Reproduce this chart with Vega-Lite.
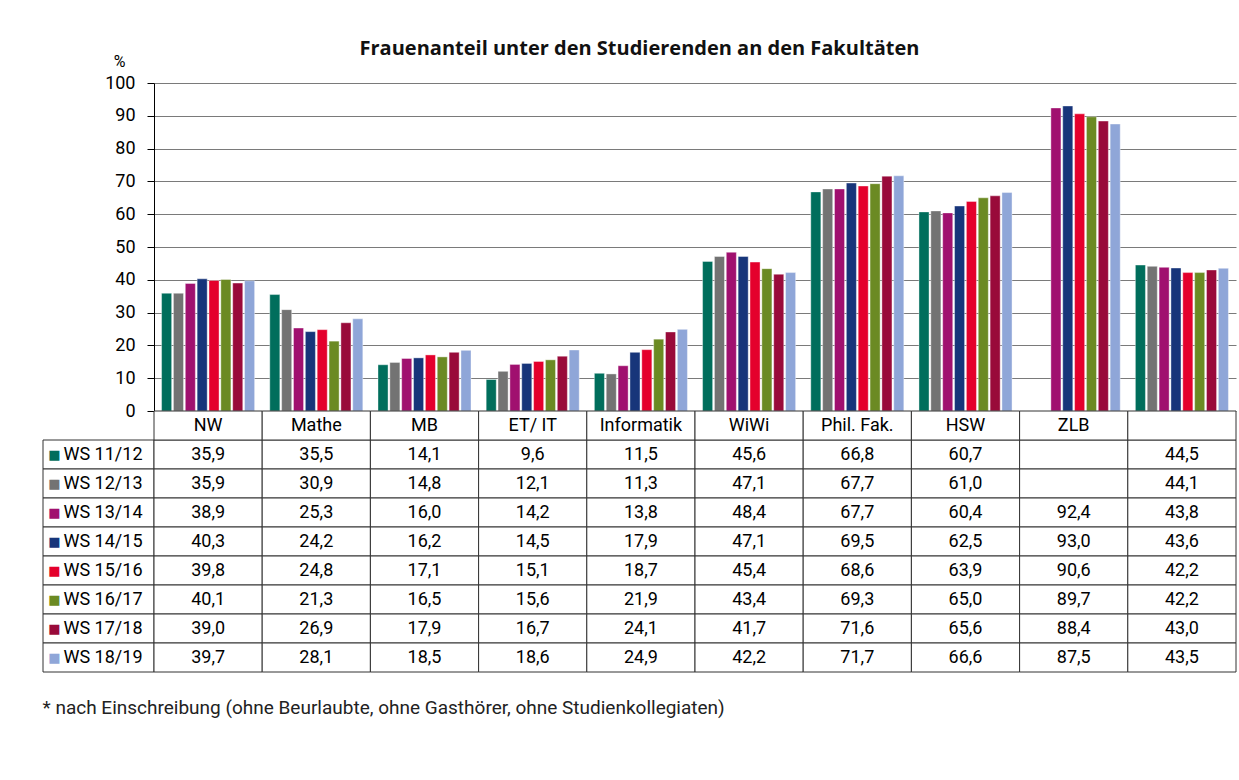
{
  "$schema": "https://vega.github.io/schema/vega-lite/v6.json",
  "padding": {"left": 42, "top": 39, "right": 2, "bottom": 5},
  "background": "white",
  "title": {"text": "Frauenanteil unter den Studierenden an den Fakultäten", "fontSize": 20, "fontWeight": "bold", "font": "Open Sans", "color": "#111", "anchor": "middle", "offset": -6},
  "config": {
    "font": "Roboto",
    "view": {"stroke": null},
    "locale": {"number": {"decimal": ",", "thousands": ".", "grouping": [3], "currency": ["", " €"]}}
  },
  "datasets": {
    "main": [
      {"cat": "NW", "ws": "WS 11/12", "v": 35.9}, {"cat": "NW", "ws": "WS 12/13", "v": 35.9}, {"cat": "NW", "ws": "WS 13/14", "v": 38.9}, {"cat": "NW", "ws": "WS 14/15", "v": 40.3},
      {"cat": "NW", "ws": "WS 15/16", "v": 39.8}, {"cat": "NW", "ws": "WS 16/17", "v": 40.1}, {"cat": "NW", "ws": "WS 17/18", "v": 39.0}, {"cat": "NW", "ws": "WS 18/19", "v": 39.7},
      {"cat": "Mathe", "ws": "WS 11/12", "v": 35.5}, {"cat": "Mathe", "ws": "WS 12/13", "v": 30.9}, {"cat": "Mathe", "ws": "WS 13/14", "v": 25.3}, {"cat": "Mathe", "ws": "WS 14/15", "v": 24.2},
      {"cat": "Mathe", "ws": "WS 15/16", "v": 24.8}, {"cat": "Mathe", "ws": "WS 16/17", "v": 21.3}, {"cat": "Mathe", "ws": "WS 17/18", "v": 26.9}, {"cat": "Mathe", "ws": "WS 18/19", "v": 28.1},
      {"cat": "MB", "ws": "WS 11/12", "v": 14.1}, {"cat": "MB", "ws": "WS 12/13", "v": 14.8}, {"cat": "MB", "ws": "WS 13/14", "v": 16.0}, {"cat": "MB", "ws": "WS 14/15", "v": 16.2},
      {"cat": "MB", "ws": "WS 15/16", "v": 17.1}, {"cat": "MB", "ws": "WS 16/17", "v": 16.5}, {"cat": "MB", "ws": "WS 17/18", "v": 17.9}, {"cat": "MB", "ws": "WS 18/19", "v": 18.5},
      {"cat": "ET/ IT", "ws": "WS 11/12", "v": 9.6}, {"cat": "ET/ IT", "ws": "WS 12/13", "v": 12.1}, {"cat": "ET/ IT", "ws": "WS 13/14", "v": 14.2}, {"cat": "ET/ IT", "ws": "WS 14/15", "v": 14.5},
      {"cat": "ET/ IT", "ws": "WS 15/16", "v": 15.1}, {"cat": "ET/ IT", "ws": "WS 16/17", "v": 15.6}, {"cat": "ET/ IT", "ws": "WS 17/18", "v": 16.7}, {"cat": "ET/ IT", "ws": "WS 18/19", "v": 18.6},
      {"cat": "Informatik", "ws": "WS 11/12", "v": 11.5}, {"cat": "Informatik", "ws": "WS 12/13", "v": 11.3}, {"cat": "Informatik", "ws": "WS 13/14", "v": 13.8}, {"cat": "Informatik", "ws": "WS 14/15", "v": 17.9},
      {"cat": "Informatik", "ws": "WS 15/16", "v": 18.7}, {"cat": "Informatik", "ws": "WS 16/17", "v": 21.9}, {"cat": "Informatik", "ws": "WS 17/18", "v": 24.1}, {"cat": "Informatik", "ws": "WS 18/19", "v": 24.9},
      {"cat": "WiWi", "ws": "WS 11/12", "v": 45.6}, {"cat": "WiWi", "ws": "WS 12/13", "v": 47.1}, {"cat": "WiWi", "ws": "WS 13/14", "v": 48.4}, {"cat": "WiWi", "ws": "WS 14/15", "v": 47.1},
      {"cat": "WiWi", "ws": "WS 15/16", "v": 45.4}, {"cat": "WiWi", "ws": "WS 16/17", "v": 43.4}, {"cat": "WiWi", "ws": "WS 17/18", "v": 41.7}, {"cat": "WiWi", "ws": "WS 18/19", "v": 42.2},
      {"cat": "Phil. Fak.", "ws": "WS 11/12", "v": 66.8}, {"cat": "Phil. Fak.", "ws": "WS 12/13", "v": 67.7}, {"cat": "Phil. Fak.", "ws": "WS 13/14", "v": 67.7}, {"cat": "Phil. Fak.", "ws": "WS 14/15", "v": 69.5},
      {"cat": "Phil. Fak.", "ws": "WS 15/16", "v": 68.6}, {"cat": "Phil. Fak.", "ws": "WS 16/17", "v": 69.3}, {"cat": "Phil. Fak.", "ws": "WS 17/18", "v": 71.6}, {"cat": "Phil. Fak.", "ws": "WS 18/19", "v": 71.7},
      {"cat": "HSW", "ws": "WS 11/12", "v": 60.7}, {"cat": "HSW", "ws": "WS 12/13", "v": 61.0}, {"cat": "HSW", "ws": "WS 13/14", "v": 60.4}, {"cat": "HSW", "ws": "WS 14/15", "v": 62.5},
      {"cat": "HSW", "ws": "WS 15/16", "v": 63.9}, {"cat": "HSW", "ws": "WS 16/17", "v": 65.0}, {"cat": "HSW", "ws": "WS 17/18", "v": 65.6}, {"cat": "HSW", "ws": "WS 18/19", "v": 66.6},
      {"cat": "ZLB", "ws": "WS 11/12", "v": null}, {"cat": "ZLB", "ws": "WS 12/13", "v": null}, {"cat": "ZLB", "ws": "WS 13/14", "v": 92.4}, {"cat": "ZLB", "ws": "WS 14/15", "v": 93.0},
      {"cat": "ZLB", "ws": "WS 15/16", "v": 90.6}, {"cat": "ZLB", "ws": "WS 16/17", "v": 89.7}, {"cat": "ZLB", "ws": "WS 17/18", "v": 88.4}, {"cat": "ZLB", "ws": "WS 18/19", "v": 87.5},
      {"cat": "Gesamt", "ws": "WS 11/12", "v": 44.5}, {"cat": "Gesamt", "ws": "WS 12/13", "v": 44.1}, {"cat": "Gesamt", "ws": "WS 13/14", "v": 43.8}, {"cat": "Gesamt", "ws": "WS 14/15", "v": 43.6},
      {"cat": "Gesamt", "ws": "WS 15/16", "v": 42.2}, {"cat": "Gesamt", "ws": "WS 16/17", "v": 42.2}, {"cat": "Gesamt", "ws": "WS 17/18", "v": 43.0}, {"cat": "Gesamt", "ws": "WS 18/19", "v": 43.5}
    ]
  },
  "columns": 2,
  "spacing": 0,
  "bounds": "flush",
  "resolve": {"scale": {"x": "independent", "y": "independent"}},
  "concat": [
    {
      "width": 111,
      "height": 328,
      "data": {"values": [{"t": ""}]},
      "mark": {"type": "text"},
      "encoding": {"text": {"field": "t"}}
    },
    {
      "width": 1082,
      "height": 328,
      "data": {"name": "main"},
      "mark": {"type": "bar", "stroke": "white", "strokeWidth": 0.4},
      "encoding": {
        "x": {"field": "cat", "type": "nominal", "sort": ["NW", "Mathe", "MB", "ET/ IT", "Informatik", "WiWi", "Phil. Fak.", "HSW", "ZLB", "Gesamt"], "scale": {"paddingInner": 0.14, "paddingOuter": 0.07}, "axis": null},
        "xOffset": {"field": "ws", "type": "nominal", "sort": ["WS 11/12", "WS 12/13", "WS 13/14", "WS 14/15", "WS 15/16", "WS 16/17", "WS 17/18", "WS 18/19"], "scale": {"paddingInner": 0.15}},
        "y": {"field": "v", "type": "quantitative", "scale": {"domain": [0, 100]},
          "axis": {"values": [0, 10, 20, 30, 40, 50, 60, 70, 80, 90, 100], "grid": true, "gridColor": "#7a7a7a", "gridWidth": 1, "domainColor": "black", "tickColor": "black", "tickSize": 7, "labelFontSize": 18, "labelColor": "black", "labelFont": "Roboto", "labelPadding": 12,
            "title": "%", "titleAngle": 0, "titleX": -35, "titleY": -22, "titleFontSize": 16, "titleFontWeight": "normal", "titleAlign": "center", "titleBaseline": "middle", "titleColor": "black", "titleFont": "Roboto"}},
        "color": {"field": "ws", "type": "nominal", "scale": {"domain": ["WS 11/12", "WS 12/13", "WS 13/14", "WS 14/15", "WS 15/16", "WS 16/17", "WS 17/18", "WS 18/19"], "range": ["#006e5c", "#737373", "#a0106f", "#17357a", "#e4002c", "#6b8a23", "#990a3a", "#8fa6d8"]}, "legend": null}
      }
    },
    {
      "width": 111,
      "height": 261,
      "data": {"name": "main"},
      "transform": [{"filter": "datum.cat === 'NW'"}],
      "title": {"text": "* nach Einschreibung (ohne Beurlaubte, ohne Gasthörer, ohne Studienkollegiaten)", "orient": "bottom", "anchor": "start", "fontSize": 19, "fontWeight": "normal", "font": "Roboto", "color": "#222", "offset": 26},
      "encoding": {
        "y": {"field": "ws", "type": "nominal", "scale": {"domain": ["Kopf", "WS 11/12", "WS 12/13", "WS 13/14", "WS 14/15", "WS 15/16", "WS 16/17", "WS 17/18", "WS 18/19"], "paddingInner": 0, "paddingOuter": 0}, "axis": null}
      },
      "layer": [
        {"mark": {"type": "rect", "fill": "white", "stroke": "#333", "strokeWidth": 1}},
        {"mark": {"type": "text", "fontSize": 13, "font": "DejaVu Sans", "dx": -44, "align": "center", "baseline": "middle"},
          "encoding": {"text": {"value": "■"}, "color": {"field": "ws", "type": "nominal", "legend": null}}},
        {"mark": {"type": "text", "fontSize": 18, "font": "Roboto", "dx": -35, "align": "left", "baseline": "middle", "color": "black"},
          "encoding": {"text": {"field": "ws", "type": "nominal"}}}
      ]
    },
    {
      "width": 1082,
      "height": 261,
      "data": {"name": "main"},
      "encoding": {
        "x": {"field": "cat", "type": "nominal", "sort": ["NW", "Mathe", "MB", "ET/ IT", "Informatik", "WiWi", "Phil. Fak.", "HSW", "ZLB", "Gesamt"], "scale": {"paddingInner": 0, "paddingOuter": 0}, "axis": null},
        "y": {"field": "ws", "type": "nominal", "scale": {"domain": ["Kopf", "WS 11/12", "WS 12/13", "WS 13/14", "WS 14/15", "WS 15/16", "WS 16/17", "WS 17/18", "WS 18/19"], "paddingInner": 0, "paddingOuter": 0}, "axis": null}
      },
      "layer": [
        {"mark": {"type": "rect", "fill": "white", "stroke": "#333", "strokeWidth": 1}},
        {"transform": [{"filter": "datum.ws === 'WS 11/12'"}],
          "mark": {"type": "rect", "fill": "white", "stroke": "#333", "strokeWidth": 1},
          "encoding": {"y": {"datum": "Kopf", "type": "nominal"}}},
        {"transform": [{"filter": "isValid(datum.v)"}],
          "mark": {"type": "text", "fontSize": 18, "font": "Roboto", "color": "black", "baseline": "middle"},
          "encoding": {"text": {"field": "v", "type": "quantitative", "format": ".1f"}}},
        {"transform": [{"filter": "datum.ws === 'WS 11/12'"}],
          "mark": {"type": "text", "fontSize": 18, "font": "Roboto", "color": "black", "baseline": "middle"},
          "encoding": {"y": {"datum": "Kopf", "type": "nominal"}, "text": {"condition": {"test": "datum.cat === 'Gesamt'", "value": ""}, "field": "cat", "type": "nominal"}}}
      ]
    }
  ]
}
